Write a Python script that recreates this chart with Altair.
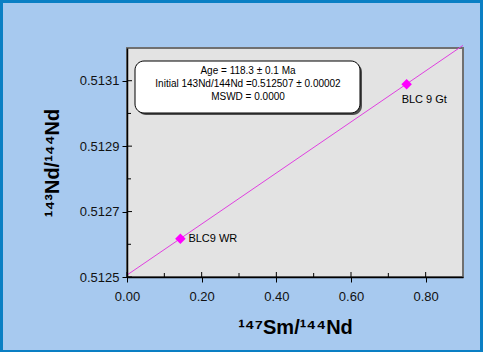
import altair as alt
import pandas as pd

# ---- data ----
sample_names = ["BLC9 WR", "BLC 9 Gt"]
sm_nd = [0.143, 0.749]
nd_nd = [0.512617, 0.513089]

iso_x = [0.0, 0.9]
iso_y = [0.512506, 0.513208]

x_ticks = [0.0, 0.2, 0.4, 0.6, 0.8]
x_minor = [0.1, 0.3, 0.5, 0.7]
y_ticks = [0.5125, 0.5127, 0.5129, 0.5131]
y_minor = [0.5126, 0.5128, 0.5130]

box_lines = ["Age =  118.3 ± 0.1 Ma",
             "Initial 143Nd/144Nd =0.512507  ± 0.00002",
             "MSWD = 0.0000"]

W, H = 336, 229
FONT = "Liberation Sans"
DARK = "#0a7fc4"
LIGHT = "#a7c9ef"
PLOT_BG = "#e3e3e3"

xs = alt.Scale(domain=[0, 0.9], nice=False, zero=False)
ys = alt.Scale(domain=[0.5125, 0.5132], nice=False, zero=False)

pts = pd.DataFrame({"name": sample_names, "x": sm_nd, "y": nd_nd})
iso = pd.DataFrame({"x": iso_x, "y": iso_y})
one = pd.DataFrame({"a": [0]})

xaxis = alt.Axis(values=x_ticks, format=".2f", title="¹⁴⁷Sm/¹⁴⁴Nd", zindex=1,
                 labelFlush=False)
yaxis = alt.Axis(values=y_ticks, format=".4f", title="¹⁴³Nd/¹⁴⁴Nd", zindex=1,
                 labelFlush=False)

# frame + plot background
frame = alt.Chart(one).mark_rect(fill=LIGHT).encode(
    x=alt.value(-124), x2=alt.value(W + 17),
    y=alt.value(-45), y2=alt.value(H + 73))
plotbg = alt.Chart(one).mark_rect(fill=PLOT_BG, stroke="#707070", strokeWidth=2).encode(
    x=alt.value(0), x2=alt.value(W), y=alt.value(0), y2=alt.value(H))

line = alt.Chart(iso).mark_line(color="#e040e0", strokeWidth=1).encode(
    x=alt.X("x:Q", scale=xs, axis=xaxis),
    y=alt.Y("y:Q", scale=ys, axis=yaxis))

# inner tick marks
xmaj_in = alt.Chart(pd.DataFrame({"x": x_ticks})).mark_rule(color="black", strokeWidth=1).encode(
    x=alt.X("x:Q", scale=xs, axis=xaxis), y=alt.value(H - 5), y2=alt.value(H))
xmin_in = alt.Chart(pd.DataFrame({"x": x_minor})).mark_rule(color="black", strokeWidth=1).encode(
    x=alt.X("x:Q", scale=xs, axis=xaxis), y=alt.value(H - 4), y2=alt.value(H))
ymaj_in = alt.Chart(pd.DataFrame({"y": y_ticks})).mark_rule(color="black", strokeWidth=1).encode(
    y=alt.Y("y:Q", scale=ys, axis=yaxis), x=alt.value(0), x2=alt.value(5))
ymin_in = alt.Chart(pd.DataFrame({"y": y_minor})).mark_rule(color="black", strokeWidth=1).encode(
    y=alt.Y("y:Q", scale=ys, axis=yaxis), x=alt.value(0), x2=alt.value(4))

points = alt.Chart(pts).mark_point(shape="diamond", filled=True, color="#ff00ff",
                                   size=110, opacity=1).encode(
    x=alt.X("x:Q", scale=xs, axis=xaxis), y=alt.Y("y:Q", scale=ys, axis=yaxis))

labels_wr = alt.Chart(pts.iloc[[0]]).mark_text(align="left", baseline="middle", dx=8,
                                               font=FONT, fontSize=11, color="black").encode(
    x=alt.X("x:Q", scale=xs, axis=xaxis), y=alt.Y("y:Q", scale=ys, axis=yaxis), text="name:N")
labels_gt = alt.Chart(pts.iloc[[1]]).mark_text(align="left", baseline="middle", dx=-5, dy=16,
                                               font=FONT, fontSize=11, color="black").encode(
    x=alt.X("x:Q", scale=xs, axis=xaxis), y=alt.Y("y:Q", scale=ys, axis=yaxis), text="name:N")

shadow = alt.Chart(one).mark_rect(fill="#505050", cornerRadius=9).encode(
    x=alt.value(10), x2=alt.value(235), y=alt.value(15), y2=alt.value(67))
box = alt.Chart(one).mark_rect(fill="white", stroke="black", strokeWidth=1, cornerRadius=9).encode(
    x=alt.value(8), x2=alt.value(233), y=alt.value(13), y2=alt.value(65))

box_text = alt.Chart(pd.DataFrame({"t": ["\n".join(box_lines)]})).mark_text(
    align="center", baseline="middle", font=FONT, fontSize=10, color="black",
    lineBreak="\n", lineHeight=13).encode(
    x=alt.value(121), y=alt.value(23), text="t:N")

chart = alt.layer(frame, plotbg, line, xmaj_in, xmin_in, ymaj_in, ymin_in,
                  shadow, box, box_text, points, labels_wr, labels_gt).properties(
    width=W, height=H,
    background=DARK,
    padding={"left": 127, "top": 48, "right": 20, "bottom": 75},
    autosize=alt.AutoSizeParams(type="none"),
).configure_view(stroke=None).configure_axis(
    grid=False, domainColor="black", domainWidth=1.5,
    tickColor="black", tickSize=5, tickWidth=1,
    labelFont=FONT, labelFontSize=13, labelColor="#111111",
    titleFont=FONT, titleFontSize=20, titleFontWeight="bold", titleColor="black",
).configure_axisX(labelPadding=8, titlePadding=14).configure_axisY(labelPadding=3, titlePadding=17)

chart.save("out.html", embed_options={"renderer": "svg", "actions": False})
